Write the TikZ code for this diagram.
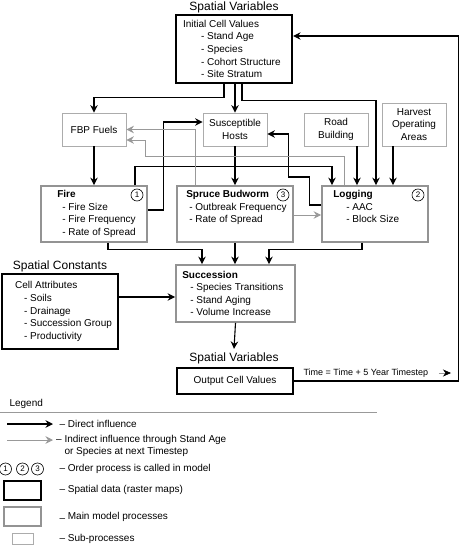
\documentclass[tikz,border=0pt]{standalone}
\usepackage{fontspec}
\setmainfont{Liberation Sans}
\usetikzlibrary{arrows.meta}

\begin{document}
\begin{tikzpicture}[x=1pt,y=-1pt,
  font=\fontsize{10}{12.6}\selectfont,
  spatial/.style={draw=black, line width=2.2pt, inner sep=0pt},
  mainbox/.style={draw=gray!85, line width=1.8pt, inner sep=0pt},
  subbox/.style={draw=gray!65, line width=0.8pt, inner sep=0pt, align=center,
    minimum width=64pt, minimum height=33pt},
  boxtext/.style={inner sep=0pt, align=left},
  heading/.style={font=\fontsize{12}{14}\selectfont},
  callorder/.style={circle, draw, line width=0.6pt, inner sep=0pt,
    minimum size=12pt, font=\fontsize{8}{8}\selectfont},
  direct/.style={-{Stealth[length=7.5pt,width=7.5pt,inset=2.5pt]}, line width=1.1pt},
  indirect/.style={direct, draw=gray!80, line width=0.9pt, color=gray!80}]
  \useasboundingbox (0,0) rectangle (474,545);

  % Spatial variables in
  \node[heading] (varTop) at (234,7) {Spatial Variables};
  \node[spatial, minimum width=116pt, minimum height=68pt] (initial) at (234,49) {};
  \node[boxtext, anchor=west] (initialtxt) at ([xshift=8pt]initial.west)
    {Initial Cell Values\\ \hspace*{18pt}- Stand Age\\ \hspace*{18pt}- Species\\
     \hspace*{18pt}- Cohort Structure\\ \hspace*{18pt}- Site Stratum};

  % Sub-processes
  \node[subbox] (fbp) at (94,129.5) {FBP Fuels};
  \node[subbox] (hosts) at (235,129.5) {Susceptible\\Hosts};
  \node[subbox] (road) at (336,129.5) {Road\\Building};
  \node[subbox, minimum height=43pt] (harvest) at (414,124.5) {Harvest\\Operating\\Areas};

  % Main processes
  \node[mainbox, minimum width=106pt, minimum height=56pt] (fire) at (94,214) {};
  \node[boxtext, anchor=west] (firetxt) at ([xshift=17pt]fire.west)
    {\textbf{Fire}\\ \hspace*{5pt}- Fire Size\\ \hspace*{5pt}- Fire Frequency\\
     \hspace*{5pt}- Rate of Spread};
  \node[mainbox, minimum width=116pt, minimum height=56pt] (budworm) at (235,214) {};
  \node[boxtext, anchor=north west] (budwormtxt) at ([xshift=10pt,yshift=-5pt]budworm.north west)
    {\textbf{Spruce Budworm}\\ \hspace*{3pt}- Outbreak Frequency\\ \hspace*{3pt}- Rate of Spread};
  \node[mainbox, minimum width=106pt, minimum height=56pt] (logging) at (375,214) {};
  \node[boxtext, anchor=north west] (loggingtxt) at ([xshift=12pt,yshift=-5pt]logging.north west)
    {\textbf{Logging}\\ \hspace*{13pt}- AAC\\ \hspace*{13pt}- Block Size};
  \node[callorder] (orderfire) at (137,195) {1};
  \node[callorder] (orderbudworm) at (283,195) {3};
  \node[callorder] (orderlogging) at (418,195) {2};

  \node[mainbox, minimum width=119pt, minimum height=57pt] (succession) at (235.5,293.5) {};
  \node[boxtext, anchor=west] (successiontxt) at ([xshift=7pt]succession.west)
    {\textbf{Succession}\\ \hspace*{8pt}- Species Transitions\\ \hspace*{8pt}- Stand Aging\\
     \hspace*{8pt}- Volume Increase};

  % Spatial constants
  \node[heading] (constTitle) at (60,266) {Spatial Constants};
  \node[spatial, minimum width=116pt, minimum height=75pt] (cells) at (60,311.5) {};
  \node[boxtext, anchor=west] (cellstxt) at ([xshift=14pt]cells.west)
    {Cell Attributes\\ \hspace*{9pt}- Soils\\ \hspace*{9pt}- Drainage\\
     \hspace*{9pt}- Succession Group\\ \hspace*{9pt}- Productivity};

  % Spatial variables out
  \node[heading] (varBottom) at (234,358) {Spatial Variables};
  \node[spatial, minimum width=116pt, minimum height=26pt] (output) at (235,381) {Output Cell Values};

  % Direct influences
  \draw[direct] ([xshift=-10pt]initial.south) -- ++(0,13) -| (fbp.north);
  \draw[direct] (initial.south -| hosts.north) -- (hosts.north);
  \draw[direct] ([xshift=8pt]initial.south) -- ++(0,16) -| ([xshift=1pt]logging.north);
  \draw[direct] (fbp.south) -- (fire.north);
  \draw[direct] (hosts.south) -- (budworm.north);
  \draw[direct] ([xshift=21pt]road.south) -- ([xshift=21pt]road.south |- logging.north);
  \draw[direct] ([xshift=-21pt]harvest.south) -- ([xshift=-21pt]harvest.south |- logging.north);
  \draw[direct] ([yshift=4pt]fire.east) -- ++(16,0) |- ([yshift=7.5pt]hosts.west);
  \draw[direct] ([xshift=41pt]fire.north) -- ++(0,-19) -| ([xshift=-43pt]logging.north);
  \draw[direct] ([yshift=9pt]logging.west) -- ++(-12,0) -- ++(0,-28) -- ++(-21,0)
    |- ([yshift=-4.5pt]hosts.east);

  % Indirect influences
  \draw[indirect] ([xshift=-40pt]budworm.north) |- (fbp.east);
  \draw[indirect] ([xshift=-31pt]logging.north) -- ++(0,-29) -- ++(-199,0)
    |- ([yshift=-10.5pt]fbp.east);
  \draw[indirect] ([yshift=-1pt]budworm.east) -- ([yshift=-1pt]logging.west);

  % Into succession
  \draw[direct] ([xshift=14pt]fire.south) -- ++(0,7) -| ([xshift=-33.5pt]succession.north);
  \draw[direct] (budworm.south) -- (budworm.south |- succession.north);
  \draw[direct] ([xshift=-13pt]logging.south) -- ++(0,7) -| ([xshift=33.5pt]succession.north);
  \draw[direct] ([yshift=14.5pt]cells.east) -- ([yshift=14.5pt]cells.east -| succession.west);
  \draw[direct] (succession.south) -- (varBottom.north);

  % Time loop
  \draw[direct] (output.east) -- ++(164,0) |- ([yshift=13pt]initial.east);
  \node[anchor=west, font=\fontsize{9}{10}\selectfont] (timelbl) at (300,373)
    {Time = Time + 5 Year Timestep};
  \coordinate (timeend) at (451,373);
  \draw[-{Stealth[length=8pt,width=7pt,inset=2.5pt,color=black]}, gray!80, line width=0.6pt]
    ([xshift=7pt]timelbl.east) -- (timeend);

  % Legend
  \node[anchor=west] (legendtitle) at (6,404) {Legend};
  \draw[gray!80, line width=0.8pt] (0,412) -- (377,412);
  \coordinate (keydirA) at (7,424);
  \coordinate (keydirB) at (53,424);
  \draw[direct] (keydirA) -- (keydirB);
  \node[anchor=west] (keydirect) at (56,424) {-- Direct influence};
  \coordinate (keyindA) at (7,440);
  \coordinate (keyindB) at (53,440);
  \draw[indirect] (keyindA) -- (keyindB);
  \node[boxtext, anchor=west] (keyindirect) at (56,446)
    {-- Indirect influence through Stand Age\\ \hphantom{--~}or Species at next Timestep};
  \node[callorder] (keyone) at (5.5,469) {1};
  \node[callorder] (keytwo) at (22.5,469) {2};
  \node[callorder] (keythree) at (37.5,469) {3};
  \node[anchor=west] (keyorder) at (56,469) {-- Order process is called in model};
  \node[spatial, minimum width=37pt, minimum height=19pt] (keyspatial) at (22.5,490.5) {};
  \node[anchor=west] (keyspatialtxt) at (56,490) {-- Spatial data (raster maps)};
  \node[mainbox, minimum width=37pt, minimum height=19pt] (keymain) at (22.5,516.5) {};
  \node[anchor=west] (keymaintxt) at (56,517) {\raisebox{-2.5pt}{--} Main model processes};
  \node[subbox, minimum width=21pt, minimum height=11pt] (keysub) at (22.5,538.5) {};
  \node[anchor=west] (keysubtxt) at (56,539) {-- Sub-processes};
\end{tikzpicture}
\end{document}
